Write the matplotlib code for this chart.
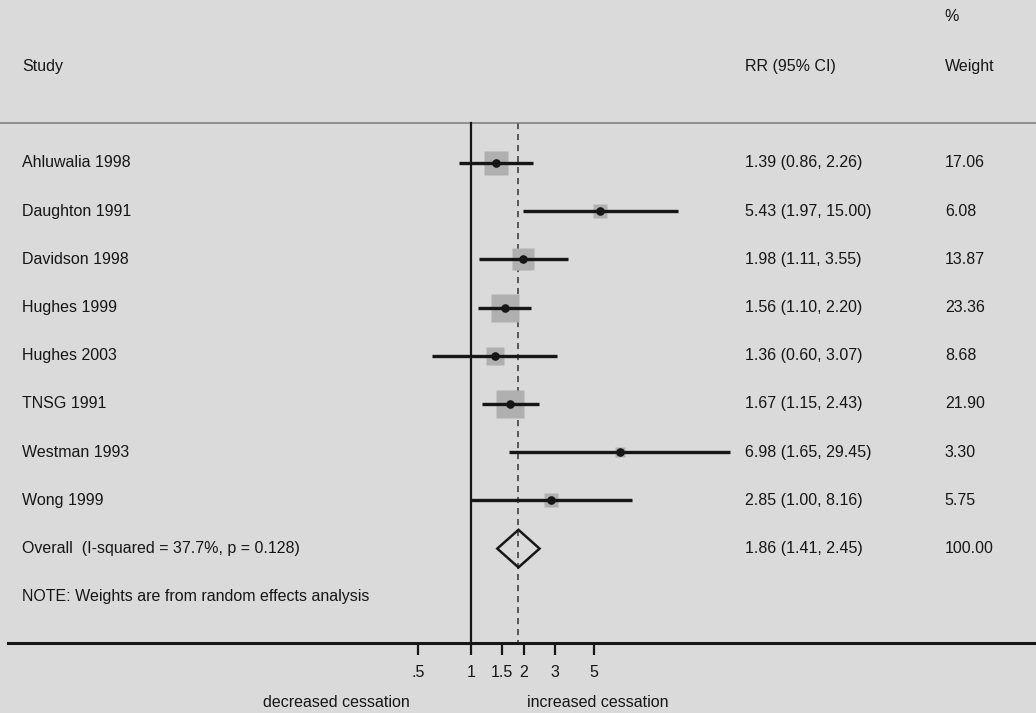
import numpy as np
import matplotlib
matplotlib.use("Agg")
import matplotlib.pyplot as plt
from matplotlib.patches import Polygon
from matplotlib.ticker import FixedLocator, FixedFormatter, NullLocator
import matplotlib.transforms as mtransforms

# Study-level data: relative risk of cessation with 95% CI and random-effects weight
studies = ["Ahluwalia 1998", "Daughton 1991", "Davidson 1998", "Hughes 1999",
           "Hughes 2003", "TNSG 1991", "Westman 1993", "Wong 1999"]
rr = [1.39, 5.43, 1.98, 1.56, 1.36, 1.67, 6.98, 2.85]
ci_low = [0.86, 1.97, 1.11, 1.10, 0.60, 1.15, 1.65, 1.00]
ci_high = [2.26, 15.00, 3.55, 2.20, 3.07, 2.43, 29.45, 8.16]
weights = [17.06, 6.08, 13.87, 23.36, 8.68, 21.90, 3.30, 5.75]

overall_label = "Overall  (I-squared = 37.7%, p = 0.128)"
overall_rr, overall_low, overall_high = 1.86, 1.41, 2.45

tick_values = [0.5, 1, 1.5, 2, 3, 5]
tick_labels = [".5", "1", "1.5", "2", "3", "5"]

bg = "#dadada"
ink = "#161616"

plt.rcParams["font.family"] = ["Liberation Sans", "DejaVu Sans"]

fig = plt.figure(figsize=(10.36, 7.13), dpi=100, facecolor=bg)
ax = fig.add_axes([0, 0, 1, 1], facecolor=bg)
ax.set_xscale("log")
ax.set_xlim(np.exp(-6.157), np.exp(7.386))
ax.set_ylim(11.41, -3.38)

n = len(studies)
rows = np.arange(n)
overall_row = n
note_row = n + 1
top_rule = -0.83
axis_row = 9.96

# weight boxes, CI lines and point estimates
for i in range(n):
    ax.plot([ci_low[i], ci_high[i]], [rows[i], rows[i]], color=ink, lw=2.4,
            solid_capstyle="butt", zorder=3)
    ax.plot(rr[i], rows[i], marker="s", ms=4.2 * np.sqrt(weights[i]),
            color="#b0b0b0", mec="none", zorder=2)
    ax.plot(rr[i], rows[i], marker="o", ms=6.2, color=ink, mec="none", zorder=4)

# pooled estimate diamond
h = 0.39
diamond = Polygon([(overall_low, overall_row), (overall_rr, overall_row - h),
                   (overall_high, overall_row), (overall_rr, overall_row + h)],
                  closed=True, fill=False, edgecolor=ink, lw=1.8, zorder=4)
ax.add_patch(diamond)

# null line and pooled-estimate reference line
ax.plot([1, 1], [top_rule, axis_row], color=ink, lw=1.6, zorder=3)
ax.plot([overall_rr, overall_rr], [top_rule, axis_row], color="#333333", lw=1.1,
        dashes=(4, 3.2), zorder=1)

# header rule
ax.axhline(top_rule, color="#7a7a7a", lw=1.1, zorder=1)

# x axis drawn as the bottom spine
for s in ["top", "right", "left"]:
    ax.spines[s].set_visible(False)
sp = ax.spines["bottom"]
sp.set_position(("data", axis_row))
sp.set_bounds(np.exp(-6.05), np.exp(7.386))
sp.set_linewidth(2.2)
sp.set_color(ink)
ax.xaxis.set_major_locator(FixedLocator(tick_values))
ax.xaxis.set_major_formatter(FixedFormatter(tick_labels))
ax.xaxis.set_minor_locator(NullLocator())
ax.tick_params(axis="x", which="major", direction="out", length=8.5, width=1.6,
               color=ink, labelsize=11.5, labelcolor=ink, pad=7)
ax.yaxis.set_visible(False)

tr = mtransforms.blended_transform_factory(ax.transAxes, ax.transData)
fs = 11.5
x_study, x_rr, x_w = 0.0212, 0.719, 0.912

ax.text(x_study, -2.01, "Study", transform=tr, fontsize=fs, color=ink, va="center")
ax.text(x_rr, -2.01, "RR (95% CI)", transform=tr, fontsize=fs, color=ink, va="center")
ax.text(x_w, -2.01, "Weight", transform=tr, fontsize=fs, color=ink, va="center")
ax.text(x_w, -3.03, "%", transform=tr, fontsize=fs, color=ink, va="center")

for i in range(n):
    ax.text(x_study, rows[i], studies[i], transform=tr, fontsize=fs, color=ink, va="center")
    ax.text(x_rr, rows[i], f"{rr[i]:.2f} ({ci_low[i]:.2f}, {ci_high[i]:.2f})",
            transform=tr, fontsize=fs, color=ink, va="center")
    ax.text(x_w, rows[i], f"{weights[i]:.2f}", transform=tr, fontsize=fs, color=ink, va="center")

ax.text(x_study, overall_row, overall_label, transform=tr, fontsize=fs, color=ink, va="center")
ax.text(x_rr, overall_row, f"{overall_rr:.2f} ({overall_low:.2f}, {overall_high:.2f})",
        transform=tr, fontsize=fs, color=ink, va="center")
ax.text(x_w, overall_row, f"{sum(weights):.2f}", transform=tr, fontsize=fs, color=ink, va="center")
ax.text(x_study, note_row, "NOTE: Weights are from random effects analysis", transform=tr,
        fontsize=fs, color=ink, va="center")

ax.text(0.325, 11.2, "decreased cessation", transform=tr, fontsize=fs, color=ink,
        ha="center", va="center")
ax.text(0.577, 11.2, "increased cessation", transform=tr, fontsize=fs, color=ink,
        ha="center", va="center")

fig.savefig("out.png", dpi=100, facecolor=bg)
